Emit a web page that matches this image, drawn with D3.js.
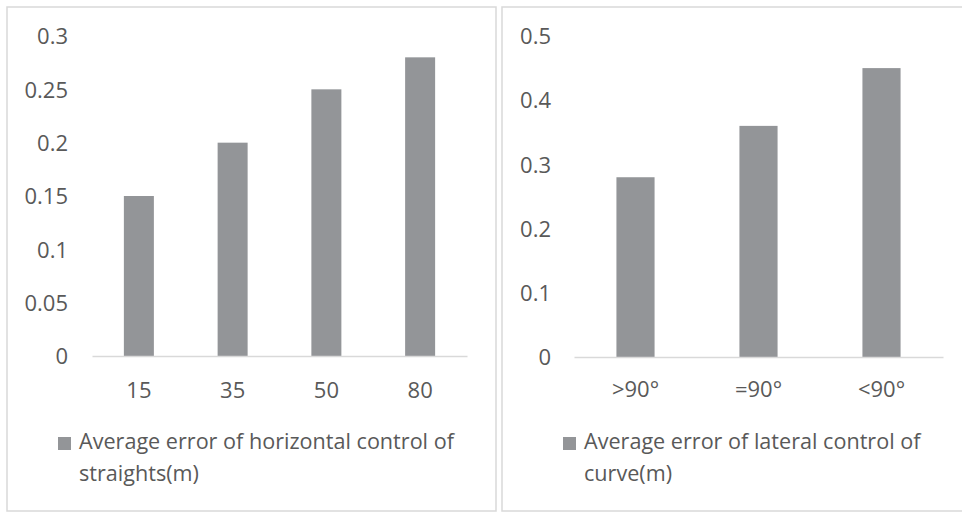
<!DOCTYPE html>
<html><head><meta charset="utf-8">
<script src="https://cdn.jsdelivr.net/npm/d3@7"></script>
<style>html,body{margin:0;padding:0;background:#fff;}svg{display:block;}</style>
</head><body>
<svg id="c" width="962" height="513"></svg>
<script>
const leftCategories = ["15", "35", "50", "80"];
const leftValues = [0.15, 0.20, 0.25, 0.28];
const leftTicks = [0, 0.05, 0.1, 0.15, 0.2, 0.25, 0.3];
const leftLegend = ["Average error of horizontal control of", "straights(m)"];

const rightCategories = [">90°", "=90°", "<90°"];
const rightValues = [0.28, 0.36, 0.45];
const rightTicks = [0, 0.1, 0.2, 0.3, 0.4, 0.5];
const rightLegend = ["Average error of lateral control of", "curve(m)"];

const svg = d3.select("#c");
const FONT = "'Open Sans', sans-serif";
const FS = 22, LFS = 21.6;
const TXT = "#595959", BAR = "#939598", GRID = "#d9d9d9";

function panel(o) {
  const g = svg.append("g");
  g.append("rect").attr("x", o.box[0]).attr("y", o.box[1]).attr("width", o.box[2]).attr("height", o.box[3])
    .attr("fill", "#fff").attr("stroke", GRID).attr("stroke-width", 1.5);
  const x = d3.scaleBand().domain(o.cats).range([o.x0, o.x1]).paddingInner(o.pad).paddingOuter(o.pad / 2);
  const y = d3.scaleLinear().domain([0, o.max]).range([o.yb, o.yt]);
  g.selectAll("rect.bar").data(o.vals).enter().append("rect").attr("class", "bar")
    .attr("x", (d, i) => x(o.cats[i])).attr("width", x.bandwidth())
    .attr("y", d => y(d)).attr("height", d => y(0) - y(d)).attr("fill", BAR);
  const ya = g.append("g").attr("transform", `translate(${o.ylab},0)`)
    .call(d3.axisLeft(y).tickValues(o.ticks).tickSize(0).tickPadding(0).tickFormat(d3.format("~g")));
  ya.select(".domain").remove();
  ya.selectAll("text").attr("font-family", FONT).attr("font-size", FS).attr("fill", TXT).attr("dy", "0.35em");
  const xa = g.append("g").attr("transform", `translate(0,${o.yb})`)
    .call(d3.axisBottom(x).tickSize(0).tickPadding(o.xpad));
  xa.select(".domain").attr("stroke", GRID).attr("stroke-width", 1.5);
  xa.selectAll("text").attr("font-family", FONT).attr("font-size", FS).attr("fill", TXT);
  g.append("rect").attr("x", o.lg[0]).attr("y", o.lg[1]).attr("width", 13).attr("height", 13).attr("fill", BAR);
  o.legend.forEach((t, i) => {
    g.append("text").attr("x", o.lg[0] + 21).attr("y", o.lg[1] + 12 + i * 31.5)
      .attr("font-family", FONT).attr("font-size", LFS).attr("fill", TXT).text(t);
  });
}

panel({box: [7, 7, 489, 504], cats: leftCategories, vals: leftValues, ticks: leftTicks, max: 0.3,
  x0: 92, x1: 467, pad: 0.68, yb: 356, yt: 36, ylab: 68, xpad: 26, lg: [58, 437], legend: leftLegend});
panel({box: [502, 7, 470, 504], cats: rightCategories, vals: rightValues, ticks: rightTicks, max: 0.5,
  x0: 574, x1: 943, pad: 0.69, yb: 357, yt: 36, ylab: 551, xpad: 24, lg: [563, 437], legend: rightLegend});
</script>
</body></html>
